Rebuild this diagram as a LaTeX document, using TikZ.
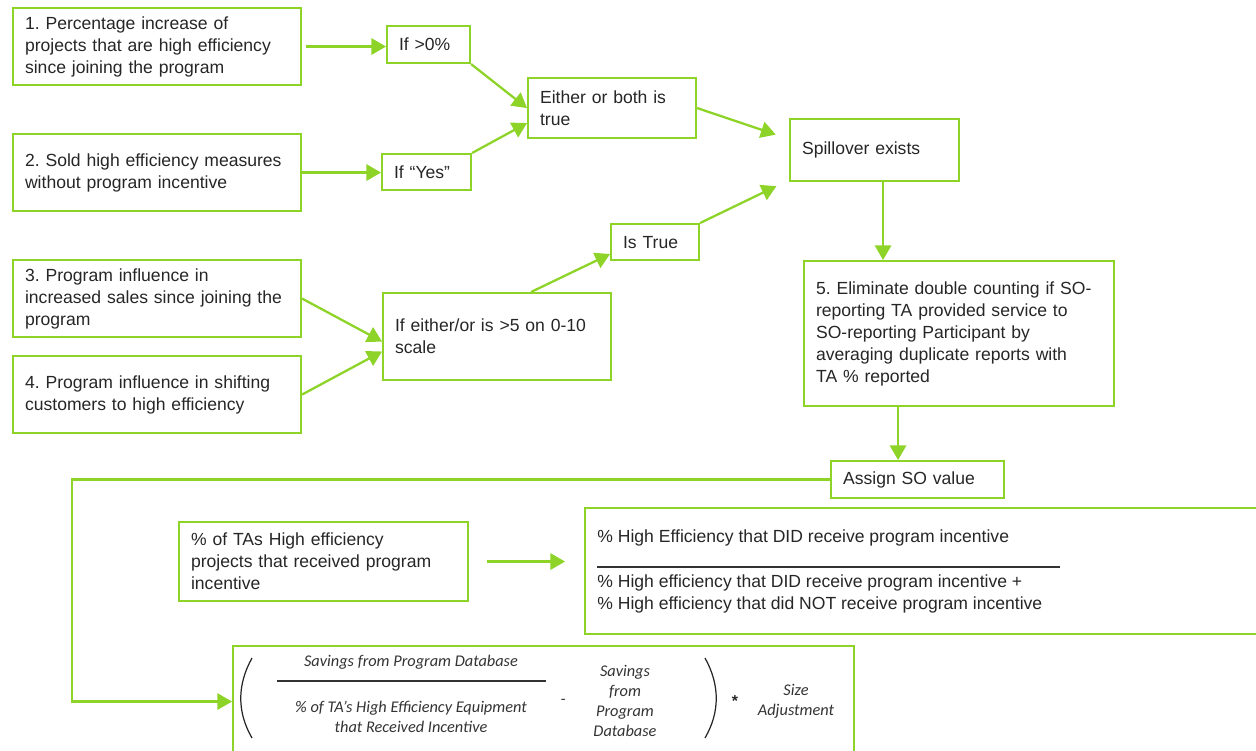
\documentclass[tikz,border=0pt]{standalone}
\usepackage{fontspec}
\setmainfont{Liberation Sans}
\newfontfamily\calfont{Carlito}
\usetikzlibrary{arrows}
\definecolor{flowgreen}{RGB}{142,212,40}
\frenchspacing
\tikzstyle{stepbox}=[rectangle, draw=flowgreen, line width=1.2pt, anchor=north west,
align=left, inner xsep=0.24cm, inner ysep=0pt, text=black!85,
font=\fontsize{10}{12.5}\selectfont]
\tikzstyle{panel}=[rectangle, draw=flowgreen, line width=1.2pt, anchor=north west, inner sep=0pt]
\tikzstyle{plain}=[inner sep=0pt, align=left, text=black!85, font=\fontsize{10}{12.5}\selectfont]
\tikzstyle{italic}=[inner sep=0pt, align=center, text=black!80, font=\calfont\itshape\fontsize{9.3}{11.3}\selectfont]
\tikzstyle{flow}=[draw=flowgreen, line width=1.3pt, ->, >=triangle 60]

\begin{document}
\begin{tikzpicture}[x=0.02cm, y=-0.02cm]
\useasboundingbox (0,0) rectangle (1256,750);

% Questions 1 and 2
\path (12,7) node[stepbox, text width=5.28cm, minimum height=1.54cm] (q1)
	{1. Percentage increase of\\projects that are high efficiency\\since joining the program};
\path (12,133) node[stepbox, text width=5.28cm, minimum height=1.54cm] (q2)
	{2. Sold high efficiency measures\\without program incentive};
\path (386,25) node[stepbox, text width=1.18cm, minimum height=0.74cm] (ifpos) {If >0\%};
\path (381,153) node[stepbox, text width=1.30cm, minimum height=0.72cm] (ifyes) {If “Yes”};
\path (527,77) node[stepbox, text width=2.88cm, minimum height=1.2cm] (either)
	{Either or both is\\true};

% Questions 3 and 4
\path (12,259) node[stepbox, text width=5.28cm, minimum height=1.54cm] (q3)
	{3. Program influence in\\increased sales since joining the\\program};
\path (12,355) node[stepbox, text width=5.28cm, minimum height=1.54cm] (q4)
	{4. Program influence in shifting\\customers to high efficiency};
\path (382,292) node[stepbox, text width=4.08cm, minimum height=1.74cm] (scale)
	{If either/or is >5 on 0-10\\scale};
\path (610,223) node[stepbox, text width=1.28cm, minimum height=0.72cm] (istrue) {Is True};

% Spillover
\path (789,118) node[stepbox, text width=2.90cm, minimum height=1.24cm] (spill) {Spillover exists};
\path (803,260) node[stepbox, text width=5.72cm, minimum height=2.9cm] (elim)
	{5. Eliminate double counting if SO-\\reporting TA provided service to\\SO-reporting Participant by\\averaging duplicate reports with\\TA \% reported};
\path (830,460) node[stepbox, text width=2.98cm, minimum height=0.74cm] (assign) {Assign SO value};

% Ratio
\path (178,521) node[stepbox, text width=5.30cm, minimum height=1.58cm] (share)
	{\% of TAs High efficiency\\projects that received program\\incentive};
\path (584,507) node[panel, minimum width=13.56cm, minimum height=2.52cm] (ratio) {};
\path (597,538) node[plain, anchor=west] (ratiotop)
	{\% High Efficiency that DID receive program incentive};
\path (597,594) node[plain, anchor=west] (ratiobot)
	{\% High efficiency that DID receive program incentive +\\\% High efficiency that did NOT receive program incentive};
\draw[black!80, line width=0.9pt] (597,567) -- (1060,567);

% Formula
\path (232,645) node[panel, minimum width=12.42cm, minimum height=2.22cm] (formula) {};
\path (411,662) node[italic] (savtop) {Savings from Program Database};
\path (411,717) node[italic] (savbot) {\% of TA’s High Efficiency Equipment\\that Received Incentive};
\draw[black!80, line width=1pt] (277,681) -- (546,681);
\path (563,702) node[italic] (minus) {-};
\path (625,701) node[italic] (savdb) {Savings\\from\\Program\\Database};
\path (735,701) node[plain, font=\fontsize{9}{9}\bfseries] (times) {*};
\path (796,701) node[italic] (size) {Size\\Adjustment};
\draw[black!85, line width=0.7pt] (252,658) .. controls (237,685) and (237,712) .. (252,738);
\draw[black!85, line width=0.7pt] (705,658) .. controls (720,685) and (720,712) .. (705,738);

% Arrows
\draw[flow, shorten <=2pt] (q1.east) -- (q1.east -| ifpos.west);
\draw[flow] (q2.east) -- (q2.east -| ifyes.west);
\draw[flow] (ifpos.south east) -- (either.west);
\draw[flow] (ifyes.north east) -- ([yshift=-0.3cm]either.west);
\draw[flow, shorten >=8pt] (either.east) -- ([yshift=0.22cm]spill.west);
\draw[flow, shorten >=8pt] (istrue.north east) -- ([yshift=-0.6cm]spill.west);
\draw[flow] (q3.east) -- ([yshift=-0.1cm]scale.west);
\draw[flow] (q4.east) -- ([yshift=-0.3cm]scale.west);
\draw[flow] ([xshift=0.68cm]scale.north) -- ([yshift=-0.24cm]istrue.west);
\draw[flow] ([xshift=0.17cm]spill.south) -- ([xshift=0.17cm]spill.south |- elim.north);
\draw[flow] ([xshift=-0.39cm]assign.north |- elim.south) -- ([xshift=-0.39cm]assign.north);
\draw[flow, shorten <=0.36cm, shorten >=0.38cm] (share.east) -- (share.east -| ratio.west);
\coordinate (bend) at (72,0);
\draw[flow] (assign.west) -| (bend |- formula.west) -- (formula.west);

\end{tikzpicture}
\end{document}
